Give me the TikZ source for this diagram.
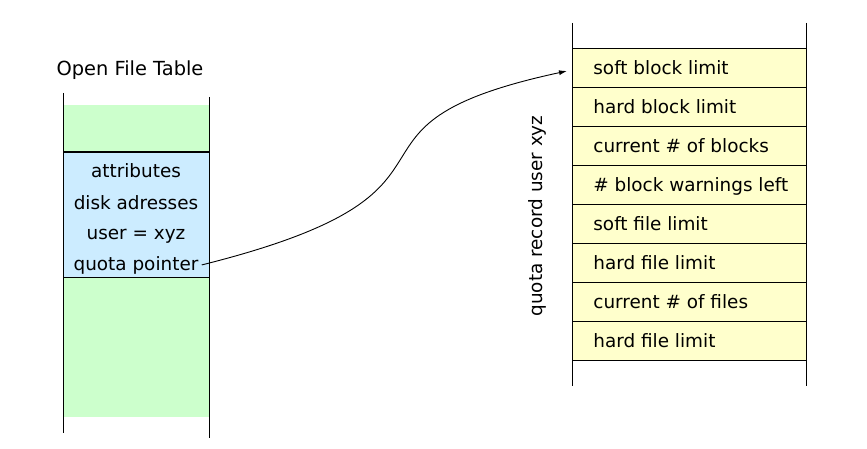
\documentclass[tikz,border=0pt]{standalone}
\usepackage{fontspec}
\setmainfont{DejaVu Sans}
\usetikzlibrary{arrows.meta}
\definecolor{oftgreen}{RGB}{204,255,204}
\definecolor{entryblue}{RGB}{204,236,255}
\definecolor{quotayellow}{RGB}{255,255,204}
\tikzset{
    quotarow/.style={draw, fill=quotayellow, anchor=north west, minimum height=39pt,
        inner xsep=21pt, inner ysep=0pt, text height=14pt, text depth=0pt},
    entryline/.style={anchor=base, inner sep=3pt}
}
\begin{document}
\begin{tikzpicture}[x=1pt, y=-1pt, line width=0.8pt, font=\fontsize{18.4}{22}\selectfont]
        \useasboundingbox (0,0) rectangle (867,449);

        %%%%%%%% Open File Table %%%%%%%%
        \fill[oftgreen] (63,105) rectangle (209,417);
        \fill[entryblue] (63,152) rectangle (209,277);
        \draw[line width=1.6pt] (63,152) -- (209,152);
        \draw (63,277) -- (209,277);
        \draw (63,93) -- (63,433);
        \draw (209,97) -- (209,438);
        \node[anchor=base, font=\fontsize{19.4}{23}\selectfont] (ofttitle) at (130,76) {Open File Table};

        %%%%%%%%% Voce %%%%%%%%%
        \node[entryline] (attr) at (136,178) {attributes};
        \node[entryline] (disk) at (136,209) {disk adresses};
        \node[entryline] (user) at (136,240) {user = xyz};
        \node[entryline] (pointer) at (136,270) {quota pointer};

        %%%%%%%% Quota record %%%%%%%%
        \foreach \txt [count=\i from 0] in {soft block limit, hard block limit, current \# of blocks,
            \# block warnings left, soft file limit, hard file limit, current \# of files, hard file limit}
            \node[quotarow] (quota\i) at (572,48+39*\i) {\makebox[192pt][l]{\txt}};
        \draw (572,23) -- (572,386);
        \draw (806,23) -- (806,386);
        \node[rotate=90] (qlabel) at (537,216) {quota record user xyz};

        %%%%%%%%% Freccia %%%%%%%%%
        \coordinate (tip) at (567,71);
        \draw[line width=0.9pt, -{Latex[length=8pt, width=5pt]}] (pointer.east) .. controls (505,189) and (307,127) .. (tip);
    \end{tikzpicture}
\end{document}
